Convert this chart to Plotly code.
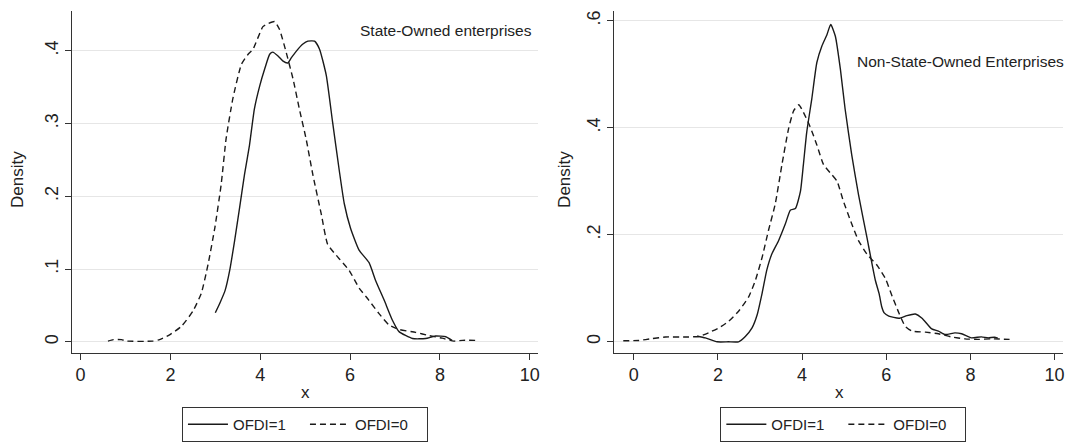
import plotly.graph_objects as go

# ---------------- data ----------------
# State-owned enterprises
soe_x1 = [3.00, 3.10, 3.22, 3.32, 3.43, 3.54, 3.65, 3.76, 3.87, 3.99, 4.10, 4.21, 4.28, 4.39, 4.50,
          4.61, 4.69, 4.80, 4.95, 5.06, 5.21, 5.32, 5.47, 5.61, 5.76, 5.87, 6.01, 6.20, 6.42, 6.57,
          6.76, 6.94, 7.09, 7.39, 7.68, 7.90, 8.13, 8.27]
soe_y1 = [0.040, 0.053, 0.071, 0.098, 0.139, 0.184, 0.230, 0.270, 0.320, 0.352, 0.375, 0.395, 0.398,
          0.393, 0.386, 0.383, 0.390, 0.399, 0.409, 0.413, 0.413, 0.402, 0.366, 0.302, 0.235, 0.190,
          0.156, 0.126, 0.109, 0.084, 0.057, 0.030, 0.014, 0.0045, 0.0045, 0.008, 0.007, 0.002]
soe_x0 = [0.61, 0.73, 0.91, 1.02, 1.61, 1.76, 1.99, 2.24, 2.50, 2.69, 2.84, 2.99, 3.13, 3.24, 3.39,
          3.58, 3.73, 3.84, 4.06, 4.17, 4.32, 4.43, 4.58, 4.73, 4.87, 5.02, 5.17, 5.36, 5.50, 5.69,
          5.98, 6.20, 6.42, 6.64, 6.87, 7.09, 7.46, 7.76, 8.05, 8.31, 8.50, 8.83]
soe_y0 = [0.001, 0.003, 0.003, 0.001, 0.001, 0.003, 0.010, 0.021, 0.042, 0.067, 0.107, 0.157, 0.216,
          0.279, 0.334, 0.381, 0.395, 0.402, 0.433, 0.437, 0.440, 0.429, 0.397, 0.361, 0.320, 0.279,
          0.230, 0.175, 0.134, 0.119, 0.098, 0.074, 0.057, 0.039, 0.023, 0.017, 0.013, 0.0085, 0.005,
          0.001, 0.002, 0.002]

# Non-state-owned enterprises
nsoe_x1 = [1.50, 1.70, 1.98, 2.25, 2.49, 2.65, 2.81, 2.93, 3.05, 3.16, 3.28, 3.44, 3.60, 3.72, 3.84,
           3.96, 4.03, 4.11, 4.23, 4.35, 4.47, 4.59, 4.68, 4.79, 4.91, 5.02, 5.18, 5.34, 5.54, 5.74,
           5.83, 5.89, 5.95, 6.06, 6.30, 6.49, 6.69, 6.85, 7.08, 7.24, 7.40, 7.63, 7.79, 8.02, 8.26,
           8.42, 8.57, 8.65]
nsoe_y1 = [0.0105, 0.0074, 0.0, 0.0, 0.0, 0.010, 0.026, 0.050, 0.091, 0.134, 0.164, 0.189, 0.220,
           0.246, 0.249, 0.281, 0.331, 0.392, 0.454, 0.522, 0.553, 0.574, 0.593, 0.571, 0.509, 0.436,
           0.349, 0.275, 0.195, 0.115, 0.090, 0.066, 0.054, 0.048, 0.044, 0.049, 0.052, 0.044, 0.024,
           0.020, 0.0136, 0.0167, 0.015, 0.0074, 0.0093, 0.0074, 0.0086, 0.0068]
nsoe_x0 = [-0.25, 0.12, 0.44, 0.75, 1.23, 1.54, 1.78, 2.02, 2.25, 2.49, 2.73, 2.89, 3.05, 3.20, 3.36,
           3.52, 3.68, 3.80, 3.92, 4.03, 4.19, 4.35, 4.51, 4.71, 4.83, 4.98, 5.18, 5.34, 5.54, 5.78,
           5.98, 6.14, 6.30, 6.45, 6.61, 6.93, 7.24, 7.55, 7.87, 8.18, 8.49, 8.93]
nsoe_y0 = [0.002, 0.0025, 0.006, 0.009, 0.009, 0.010, 0.017, 0.026, 0.038, 0.057, 0.084, 0.115, 0.158,
           0.208, 0.257, 0.331, 0.399, 0.432, 0.443, 0.429, 0.402, 0.368, 0.331, 0.312, 0.300, 0.263,
           0.220, 0.189, 0.164, 0.143, 0.118, 0.085, 0.054, 0.029, 0.020, 0.018, 0.015, 0.009, 0.0055,
           0.0045, 0.0055, 0.0045]

x_ticks = [0, 2, 4, 6, 8, 10]
x_ticktext = ["0", "2", "4", "6", "8", "10"]
soe_yticks = [0, 0.1, 0.2, 0.3, 0.4]
soe_yticktext = ["0", ".1", ".2", ".3", ".4"]
nsoe_yticks = [0, 0.2, 0.4, 0.6]
nsoe_yticktext = ["0", ".2", ".4", ".6"]
series_names = ["OFDI=1", "OFDI=0"]
panel_titles = ["State-Owned enterprises", "Non-State-Owned Enterprises"]

# ---------------- figure ----------------
W, H = 1073, 442
FONT = "Liberation Sans, Arial, Helvetica, sans-serif"
LINE = "#1a1a1a"


def px(x):
    return x / W


def py(y):
    return 1 - y / H


fig = go.Figure()

solid = dict(color=LINE, width=1.4, shape="spline", smoothing=0.5)
dashed = dict(color=LINE, width=1.4, dash="6px,4px", shape="spline", smoothing=0.5)

fig.add_trace(go.Scatter(x=soe_x1, y=soe_y1, mode="lines", line=solid, name=series_names[0],
                         xaxis="x", yaxis="y", legend="legend"))
fig.add_trace(go.Scatter(x=soe_x0, y=soe_y0, mode="lines", line=dashed, name=series_names[1],
                         xaxis="x", yaxis="y", legend="legend"))
fig.add_trace(go.Scatter(x=nsoe_x1, y=nsoe_y1, mode="lines", line=solid, name=series_names[0],
                         xaxis="x2", yaxis="y2", legend="legend2"))
fig.add_trace(go.Scatter(x=nsoe_x0, y=nsoe_y0, mode="lines", line=dashed, name=series_names[1],
                         xaxis="x2", yaxis="y2", legend="legend2"))

ydom = [py(356.7), py(10.7)]

xcommon = dict(tickmode="array", tickvals=x_ticks, ticktext=x_ticktext, showgrid=False,
               zeroline=False, showline=True, linecolor="#333333", linewidth=1.3,
               ticks="outside", ticklen=6, tickwidth=1.2, tickcolor="#333333",
               tickfont=dict(size=18, color="#222222", family=FONT))
ycommon = dict(tickmode="array", showgrid=True, gridcolor="#e6e6e6", gridwidth=1,
               zeroline=False, showline=True, linecolor="#333333", linewidth=1.3,
               ticks="outside", ticklen=6, tickwidth=1.2, tickcolor="#333333", tickangle=-90,
               tickfont=dict(size=18, color="#222222", family=FONT))

legcommon = dict(orientation="h", xanchor="left", yanchor="top", bordercolor="#333333",
                 borderwidth=1, bgcolor="white", font=dict(size=15, color="#222222", family=FONT),
                 traceorder="normal", itemwidth=40, tracegroupgap=0,
                 entrywidth=67, entrywidthmode="pixels")

fig.update_layout(
    width=W, height=H,
    margin=dict(l=0, r=0, t=0, b=0),
    paper_bgcolor="white", plot_bgcolor="white",
    font=dict(family=FONT, color="#222222"),
    xaxis=dict(domain=[px(72.3), px(539.3)], range=[-0.187, 10.19], anchor="y", **xcommon),
    yaxis=dict(domain=ydom, range=[-0.0149, 0.455], anchor="x",
               tickvals=soe_yticks, ticktext=soe_yticktext, **ycommon),
    xaxis2=dict(domain=[px(615), px(1065)], range=[-0.474, 10.20], anchor="y2", **xcommon),
    yaxis2=dict(domain=ydom, range=[-0.0203, 0.619], anchor="x2",
                tickvals=nsoe_yticks, ticktext=nsoe_yticktext, **ycommon),
    legend=dict(x=px(182.3), y=py(411.7), **legcommon),
    legend2=dict(x=px(721.7), y=py(411.7), **legcommon),
    showlegend=True,
)

annots = [
    dict(text=panel_titles[0], x=px(535), y=py(31), xanchor="right", yanchor="middle",
         font=dict(size=15.5)),
    dict(text=panel_titles[1], x=px(1067.7), y=py(62.7), xanchor="right", yanchor="middle",
         font=dict(size=15.5)),
    dict(text="Density", x=px(18), y=py(181), xanchor="center", yanchor="middle",
         textangle=-90, font=dict(size=17)),
    dict(text="Density", x=px(566), y=py(181), xanchor="center", yanchor="middle",
         textangle=-90, font=dict(size=17)),
    dict(text="x", x=px(305.8), y=py(396.7), xanchor="center", yanchor="middle",
         font=dict(size=17)),
    dict(text="x", x=px(841), y=py(396.7), xanchor="center", yanchor="middle",
         font=dict(size=17)),
]
for a in annots:
    a.update(xref="paper", yref="paper", showarrow=False)
    a["font"].update(family=FONT, color="#222222")
fig.update_layout(annotations=annots)

fig.write_html(
    "out.html",
    config={"displayModeBar": False},
    post_script="document.body.style.margin='0';document.body.style.overflow='hidden';",
)
